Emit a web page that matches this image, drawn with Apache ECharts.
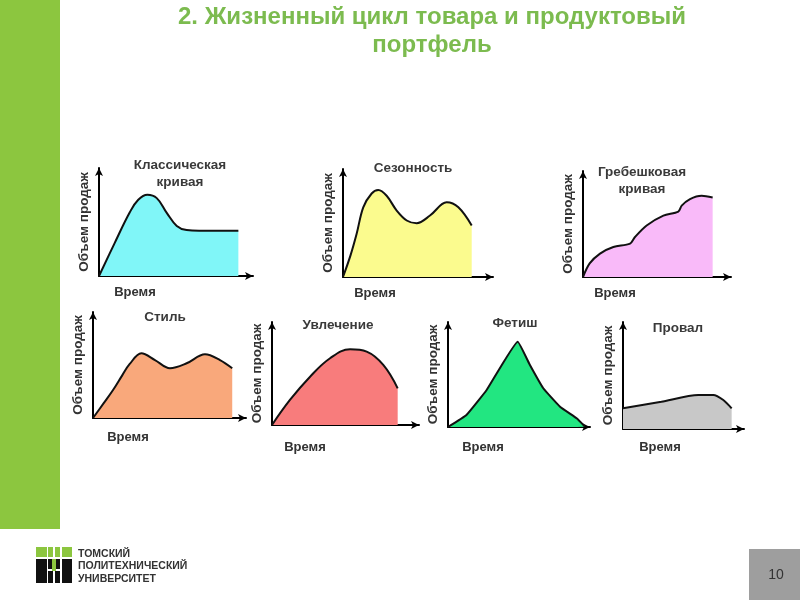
<!DOCTYPE html>
<html><head><meta charset="utf-8">
<script src="https://cdn.jsdelivr.net/npm/echarts@6/dist/echarts.min.js"></script>
<style>html,body{margin:0;padding:0;background:#fff}#c{width:800px;height:600px}</style>
</head><body><div id="c"></div>
<script>
// ---- data (normalized: x = time 0..100, y = sales 0..100) ----
const classicData   = [[0,0],[10,30],[20,59],[25.5,70.6],[31.4,75.2],[37.5,72.1],[44,58.5],[50.5,46.4],[56.9,42.5],[65,41.8],[90.5,41.8]];
const seasonData    = [[0,0],[5,20],[9.1,40],[13.5,64.5],[19.1,77.3],[23.5,80.5],[29.1,75.2],[35.8,61.5],[42.5,52.3],[49.1,49.8],[58,56.9],[69.1,69.1],[76.9,64.5],[85.8,47.7]];
const scallopData   = [[0,0],[4.5,12.8],[11.5,22.1],[20.5,28.3],[31.8,31.5],[35.1,37.7],[43,48.6],[54.3,57.9],[64.4,61.7],[66.7,67.3],[72.3,73.5],[80.2,76.6],[87.6,75]];
const styleData     = [[0,0],[7,14],[13.1,26.4],[19,40],[24,51],[31.6,61],[40.5,54.7],[50.3,47],[61.2,51.6],[73.2,60.1],[83,54.7],[91,47]];
const fadData       = [[0,0],[12.2,24.3],[25.9,46.9],[39.5,64.8],[53.1,73.5],[64.4,71.2],[75.7,58.3],[85.5,35.6]];
const fetishData    = [[0,0],[13,11.4],[27.2,35.2],[49.1,81.2],[57.7,59],[67.1,36.9],[78.9,19.3],[90.6,8.3],[96.5,0.3]];
const flopData      = [[0,19.3],[31.7,25.5],[62.2,31.8],[74.6,31.8],[82.9,27.1],[89.8,19.3]];

const chartTitles = ['Классическая\nкривая','Сезонность','Гребешковая\nкривая','Стиль','Увлечение','Фетиш','Провал'];
const yName = 'Объем продаж';
const xName = 'Время';
const slideTitle = '2. Жизненный цикл товара и продуктовый\nпортфель';
const uniName = ['ТОМСКИЙ','ПОЛИТЕХНИЧЕСКИЙ','УНИВЕРСИТЕТ'];
const pageNo = '10';

// ---- layout ----
const panels = [
  {data: classicData, color:'#80f6f8', grid:{left:99, top:168, width:154, height:108}, title:[180,165], time:[135,292], smooth:0.4},
  {data: seasonData,  color:'#fbfb8e', grid:{left:343,top:169, width:150, height:108}, title:[413,168], time:[375,293], smooth:0.35},
  {data: scallopData, color:'#f9baf9', grid:{left:583,top:171, width:148, height:106}, title:[642,172], time:[615,293], smooth:0.3},
  {data: styleData,   color:'#f9a87b', grid:{left:93, top:312, width:153, height:106}, title:[165,317], time:[128,437], smooth:0.35},
  {data: fadData,     color:'#f87c7c', grid:{left:272,top:322, width:147, height:103}, title:[338,325], time:[305,447], smooth:0.4},
  {data: fetishData,  color:'#22e681', grid:{left:448,top:322, width:142, height:105}, title:[515,323], time:[483,447], smooth:0.1},
  {data: flopData,    color:'#c8c8c8', grid:{left:623,top:322, width:121, height:107}, title:[678,328], time:[660,447], smooth:0.25}
];

const font = 'Liberation Sans, Arial, sans-serif';
const axisLine = {show:true, onZero:false, symbol:['none','arrow'], symbolSize:[6,8], lineStyle:{color:'#000', width:2}};

const grids=[], xAxes=[], yAxes=[], series=[], titles=[];
titles.push({text: slideTitle, left: 432, top: 3, textAlign:'center', padding:0,
  textStyle:{color:'#7cbb4f', fontSize:24, fontWeight:'bold', fontFamily:font, lineHeight:28}});
panels.forEach((p,i)=>{
  grids.push(p.grid);
  xAxes.push({type:'value', gridIndex:i, min:0, max:100, axisLine:axisLine, axisTick:{show:false}, axisLabel:{show:false}, splitLine:{show:false}});
  yAxes.push({type:'value', gridIndex:i, min:0, max:100, axisLine:axisLine, axisTick:{show:false}, axisLabel:{show:false}, splitLine:{show:false},
    name: yName, nameLocation:'middle', nameRotate:90, nameGap:8,
    nameTextStyle:{color:'#333', fontSize:13.5, fontWeight:'bold', fontFamily:font}});
  series.push({type:'line', xAxisIndex:i, yAxisIndex:i, data:p.data, smooth:p.smooth, showSymbol:false, silent:true,
    lineStyle:{color:'#111', width:2}, areaStyle:{color:p.color, opacity:1}});
  titles.push({text: chartTitles[i], left:p.title[0], top:p.title[1]-8.5, textAlign:'center', padding:0,
    textStyle:{color:'#3a3a3a', fontSize:13.5, fontWeight:'bold', fontFamily:font, lineHeight:17}});
  titles.push({text: xName, left:p.time[0], top:p.time[1]-7.5, textAlign:'center', padding:0,
    textStyle:{color:'#333', fontSize:13, fontWeight:'bold', fontFamily:font, lineHeight:15}});
});

const graphics = [
  {type:'rect', shape:{x:0,y:0,width:60,height:529}, style:{fill:'#8cc63f'}},
  // logo blocks
  {type:'rect', shape:{x:36,y:547,width:11,height:10}, style:{fill:'#8cc63f'}},
  {type:'rect', shape:{x:48,y:547,width:5,height:10}, style:{fill:'#8cc63f'}},
  {type:'rect', shape:{x:55,y:547,width:5,height:10}, style:{fill:'#8cc63f'}},
  {type:'rect', shape:{x:62,y:547,width:10,height:10}, style:{fill:'#8cc63f'}},
  {type:'rect', shape:{x:36,y:559,width:11,height:24}, style:{fill:'#111'}},
  {type:'rect', shape:{x:62,y:559,width:10,height:24}, style:{fill:'#111'}},
  {type:'rect', shape:{x:48,y:559,width:12,height:10}, style:{fill:'#111'}},
  {type:'rect', shape:{x:52,y:559,width:4,height:12}, style:{fill:'#8cc63f'}},
  {type:'rect', shape:{x:48,y:571,width:5,height:12}, style:{fill:'#111'}},
  {type:'rect', shape:{x:55,y:571,width:5,height:12}, style:{fill:'#111'}},
  {type:'rect', shape:{x:749,y:549,width:51,height:51}, style:{fill:'#9e9e9e'}},
  {type:'text', x:776, y:575, style:{text:pageNo, fill:'#333', font:'14px '+font, align:'center', verticalAlign:'middle'}}
];
uniName.forEach((t,k)=>graphics.push({type:'text', x:78, y:554+k*12.5, style:{text:t, fill:'#333', font:'bold 10.5px '+font, verticalAlign:'middle'}}));

const chart = echarts.init(document.getElementById('c'), null, {renderer:'canvas'});
chart.setOption({
  backgroundColor:'#fff', animation:false,
  title: titles, grid: grids, xAxis: xAxes, yAxis: yAxes, series: series, graphic: graphics
});
</script></body></html>
